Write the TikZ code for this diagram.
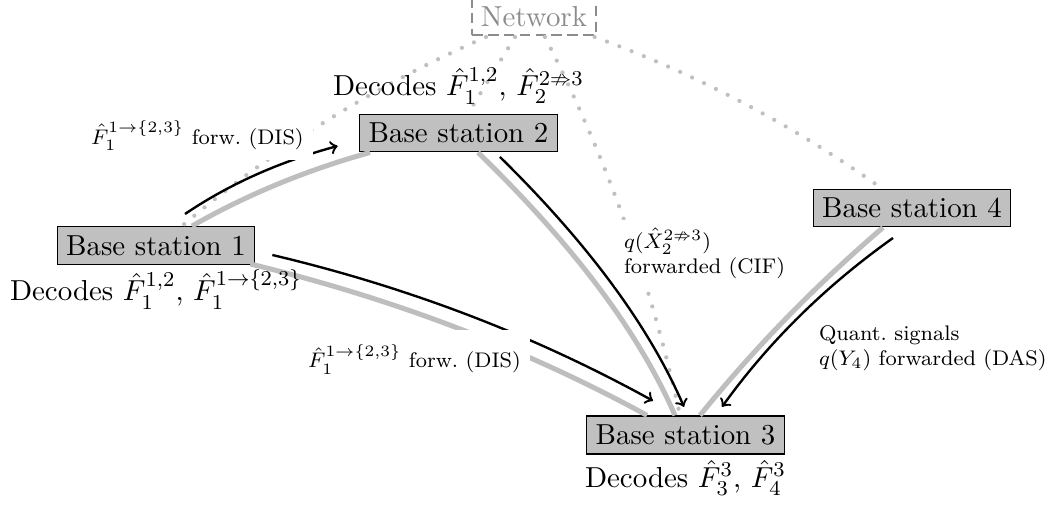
\documentclass[tikz,border=0pt]{standalone}
\usepackage{amssymb}
\usetikzlibrary{calc}

\definecolor{stationgray}{RGB}{192,192,192}
\definecolor{linkgray}{RGB}{190,190,190}
\definecolor{dotgray}{RGB}{192,192,192}
\definecolor{netgray}{RGB}{140,140,140}

\tikzset{
  station/.style={draw=black, fill=stationgray, line width=0.5pt,
    font=\fontsize{10.95}{13.6}\selectfont},
  netbox/.style={draw=netgray, text=netgray, line width=0.6pt,
    dash pattern=on 4pt off 2pt, font=\fontsize{10.95}{13.6}\selectfont},
  decodes/.style={font=\fontsize{10.95}{13.6}\selectfont},
  linklabel/.style={font=\fontsize{8}{9.5}\selectfont, fill=white, align=left},
  graylink/.style={draw=linkgray, line width=1.9pt},
  flow/.style={->, draw=black, line width=0.9pt},
  backhaul/.style={draw=dotgray, line width=1.6pt, line cap=round,
    dash pattern=on 0pt off 5pt}
}

\begin{document}
\begin{tikzpicture}[x=0.3788pt, y=-0.3788pt]
\useasboundingbox (0,0) rectangle (1049,507);

% base stations and the backhaul network
\node[station] (bs1) at (156,245.5) {Base station 1};
\node[station] (bs2) at (458.5,133) {Base station 2};
\node[station] (bs3) at (685.5,435) {Base station 3};
\node[station] (bs4) at (912,208) {Base station 4};
\node[netbox, anchor=south] (net) at (534,36) {Network};

% wireless links (thick gray)
\draw[graylink] ($(bs1.north)+(36,0)$) .. controls +(56.3,-32.1) and +(-62.4,17.3) .. ($(bs2.south)+(-88.5,0)$);
\draw[graylink] ($(bs2.south)+(19.5,0)$) .. controls +(94.7,92) and +(-36.7,-84.3) .. ($(bs3.north)+(-10.5,0)$);
\draw[graylink] ($(bs1.south east)+(-5,-1)$) .. controls +(139.1,33.7) and +(-125.6,-68.6) .. ($(bs3.north)+(-38.5,0)$);
\draw[graylink] ($(bs4.south)+(-29,0)$) .. controls +(-66.7,57.3) and +(55.3,-68.4) .. ($(bs3.north)+(14.5,0)$);

% backhaul connections to the network (dotted)
\draw[backhaul] ($(net.south)+(-48,1)$) .. controls +(-110.5,48.6) and +(92.2,-78.1) .. ($(bs1.north)+(26,0)$);
\draw[backhaul] ($(net.south)+(-19,1)$) -- ($(bs2.north)+(9.5,0)$);
\draw[backhaul] ($(net.south)+(11,1)$) .. controls +(61.3,120.7) and +(-28.7,-132.3) .. ($(bs3.north)+(-5.5,0)$);
\draw[backhaul] ($(net.south east)+(-2,1)$) .. controls +(102.8,37.5) and +(-89.2,-63.5) .. ($(bs4.north)+(-30,0)$);

% forwarded information (black arrows)
\draw[flow] ($(bs1.north)+(29,-12)$) .. controls +(47.1,-31.8) and +(-54.9,14.9) .. ($(bs2.south west)+(-21.5,-6.5)$);
\draw[flow] ($(bs2.south)+(41.5,4.5)$) .. controls +(86.7,85.3) and +(-36,-82.7) .. ($(bs3.north)+(-1.5,-8.5)$);
\draw[flow] ($(bs1.east)+(17,9.5)$) .. controls +(133.7,31.6) and +(-120.3,-66.4) .. ($(bs3.north)+(-32.5,-14.5)$);
\draw[flow] ($(bs4.south)+(-19,10.5)$) .. controls +(-66.4,47.2) and +(47.6,-66.1) .. ($(bs3.north)+(36.5,-8.5)$);

% what each station decodes
\node[decodes, anchor=south] (dec2) at (bs2.north) {Decodes $\hat{F}_1^{1,2}$, $\hat{F}_2^{2\nRightarrow 3}$};
\node[decodes, anchor=north] (dec1) at ($(bs1.south)+(0,-4.5)$) {Decodes $\hat{F}_1^{1,2}$, $\hat{F}_1^{1\rightarrow\{2,3\}}$};
\node[decodes, anchor=north] (dec3) at ($(bs3.south)+(0,-4)$) {Decodes $\hat{F}_3^{3}$, $\hat{F}_4^{3}$};

% link labels
\node[linklabel] (dis12) at (197.4,136) {$\hat{F}_1^{1\rightarrow\{2,3\}}$ forw.\ (DIS)};
\node[linklabel, inner ysep=5.5pt] (dis13) at (414.5,359.5) {$\hat{F}_1^{1\rightarrow\{2,3\}}$ forw.\ (DIS)};
\node[linklabel, anchor=north west] (cif) at (614.7,219) {$q(\hat{X}_2^{2\nRightarrow 3})$\\forwarded (CIF)};
\node[linklabel, anchor=north west, fill=none] (das) at (809.7,316) {Quant.\ signals\\$q(Y_4)$ forwarded (DAS)};
\end{tikzpicture}
\end{document}
